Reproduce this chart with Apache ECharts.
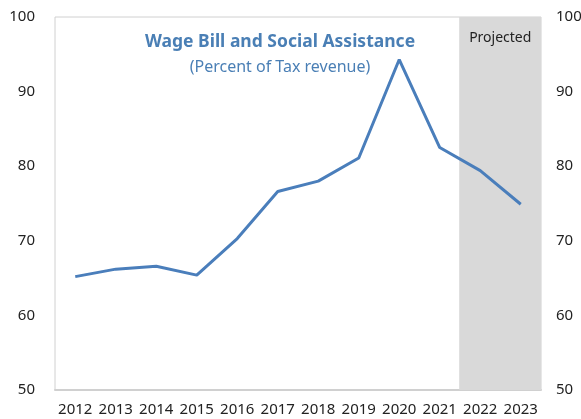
<!DOCTYPE html>
<html>
<head>
<meta charset="utf-8">
<script src="https://cdn.jsdelivr.net/npm/echarts@6/dist/echarts.min.js"></script>
<style>
  html, body { margin: 0; padding: 0; background: #fff; }
  #chart { width: 581px; height: 419px; }
</style>
</head>
<body>
<div id="chart"></div>
<script>
// data
const years = ['2012', '2013', '2014', '2015', '2016', '2017', '2018', '2019', '2020', '2021', '2022', '2023']
const wageBill = [65.2, 66.2, 66.6, 65.4, 70.3, 76.6, 78.0, 81.1, 94.3, 82.5, 79.4, 74.9]
const projectedYears = ['2022', '2023']
const yTicks = [50, 60, 70, 80, 90, 100]

const font = '"Noto Sans", "Open Sans", sans-serif'
const chart = echarts.init(document.getElementById('chart'))

// grey band behind the projected years
const shade = years.map(y => (projectedYears.includes(y) ? yTicks[yTicks.length - 1] : null))

const option = {
  animation: false,
  textStyle: { fontFamily: font },
  title: {
    text: 'Wage Bill and Social Assistance',
    subtext: '(Percent of Tax revenue)',
    left: 275,
    top: 28,
    textAlign: 'center',
    itemGap: 8,
    textStyle: { color: '#4a7fb5', fontSize: 17.5, fontWeight: 'bold', fontFamily: font },
    subtextStyle: { color: '#4a7fb5', fontSize: 16, fontFamily: font }
  },
  grid: {
    left: 55,
    right: 40,
    top: 17,
    bottom: 29,
    outerBoundsMode: 'none',
    show: true,
    borderColor: '#d0d0d0',
    borderWidth: 1
  },
  xAxis: {
    type: 'category',
    data: years,
    boundaryGap: true,
    axisLine: { show: true, lineStyle: { color: '#d0d0d0', width: 2 } },
    axisTick: { show: false },
    axisLabel: { color: '#222', fontSize: 15, margin: 12, interval: 0 }
  },
  yAxis: [
    {
      type: 'value',
      min: yTicks[0],
      max: yTicks[yTicks.length - 1],
      interval: 10,
      axisLine: { show: false },
      axisTick: { show: false },
      splitLine: { show: false },
      axisLabel: { color: '#222', fontSize: 15, margin: 20 }
    },
    {
      type: 'value',
      position: 'right',
      min: yTicks[0],
      max: yTicks[yTicks.length - 1],
      interval: 10,
      axisLine: { show: false },
      axisTick: { show: false },
      splitLine: { show: false },
      axisLabel: { color: '#222', fontSize: 15, margin: 15 }
    }
  ],
  series: [
    {
      type: 'bar',
      data: shade,
      barWidth: '104%',
      barCategoryGap: '0%',
      itemStyle: { color: '#d9d9d9' },
      label: {
        show: true,
        position: 'insideTop',
        offset: [20, 9],
        formatter: p => (p.name === projectedYears[0] ? 'Projected' : ''),
        color: '#222',
        fontSize: 14
      },
      silent: true,
      z: 1
    },
    {
      type: 'line',
      data: wageBill,
      symbol: 'none',
      lineStyle: { color: '#4a7ebb', width: 3 },
      z: 3
    }
  ]
}

chart.setOption(option)
</script>
</body>
</html>
